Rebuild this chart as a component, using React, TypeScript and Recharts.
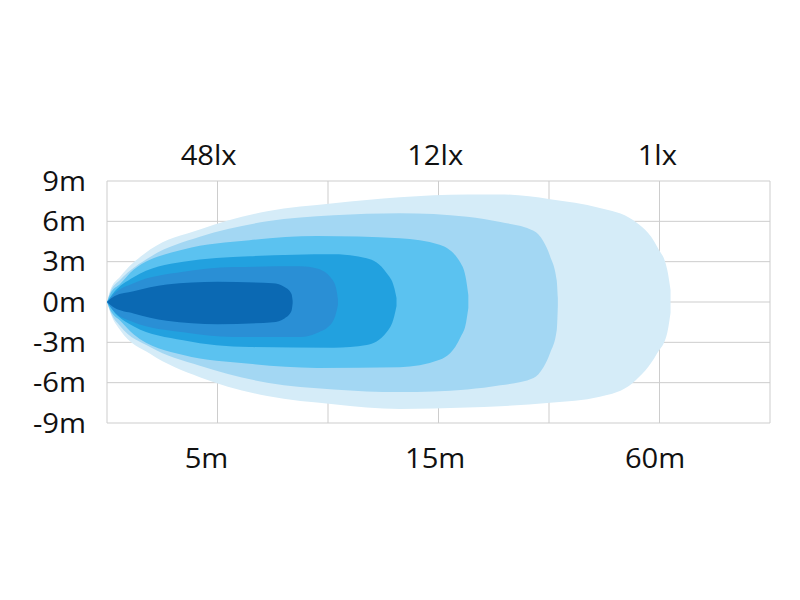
import { ComposedChart, Area, XAxis, YAxis, CartesianGrid } from "recharts";

// beam contours, x in grid columns (0..6), y in metres
const beam6X = [0, 0.03, 0.12, 0.39, 0.84, 1.45, 2.05, 2.65, 3.26, 3.56, 4.01, 4.46, 4.76, 4.98, 5.07, 5.1];
const beam6Top = [0, 0.9, 1.9, 3.9, 5.4, 6.75, 7.35, 7.8, 8.0, 8.0, 7.65, 7.0, 6.1, 4.1, 2.4, 0.9];
const beam6Bot = [0, -0.8, -2.1, -3.85, -5.6, -7.0, -7.6, -7.95, -7.85, -7.75, -7.5, -7.05, -6.0, -3.8, -2.3, -0.8];

const beam5X = [0, 0.03, 0.12, 0.39, 0.84, 1.45, 2.05, 2.65, 3.26, 3.56, 3.86, 3.95, 4.01, 4.07, 4.08];
const beam5Top = [0, 0.75, 1.65, 3.35, 4.85, 6.0, 6.45, 6.6, 6.35, 5.95, 5.3, 4.5, 3.4, 1.6, 0.3];
const beam5Bot = [0, -0.7, -1.8, -3.35, -4.75, -6.0, -6.5, -6.7, -6.5, -6.2, -5.65, -4.85, -3.8, -2.1, -0.3];

const beam4X = [0, 0.03, 0.12, 0.24, 0.69, 1.29, 1.9, 2.65, 3.01, 3.2, 3.25, 3.27];
const beam4Top = [0, 0.6, 1.35, 2.4, 3.9, 4.6, 4.9, 4.75, 4.25, 2.9, 1.65, 0.5];
const beam4Bot = [0, -0.6, -1.4, -2.4, -3.95, -4.6, -4.9, -4.85, -4.3, -2.6, -1.5, -0.45];

const beam3X = [0, 0.05, 0.24, 0.69, 1.29, 2.05, 2.35, 2.53, 2.6, 2.62];
const beam3Top = [0, 0.6, 1.85, 3.0, 3.4, 3.55, 3.25, 2.15, 1.05, 0.3];
const beam3Bot = [0, -0.6, -1.8, -2.85, -3.35, -3.4, -3.2, -2.25, -1.05, -0.3];

const beam2X = [0, 0.07, 0.24, 0.69, 1.14, 1.75, 1.9, 2.04, 2.08, 2.09];
const beam2Top = [0, 0.65, 1.4, 2.25, 2.6, 2.65, 2.5, 1.65, 0.75, 0.2];
const beam2Bot = [0, -0.75, -1.5, -2.25, -2.6, -2.6, -2.3, -1.5, -0.6, -0.2];

const beam1X = [0, 0.07, 0.24, 0.54, 1.0, 1.5, 1.61, 1.67, 1.68];
const beam1Top = [0, 0.45, 0.8, 1.3, 1.5, 1.4, 1.1, 0.6, 0.1];
const beam1Bot = [0, -0.45, -0.85, -1.4, -1.65, -1.5, -1.2, -0.65, -0.1];

const yTicks = [-9, -6, -3, 0, 3, 6, 9];
const gridCols = [0, 1, 2, 3, 4, 5, 6];
const luxLabels = ["48lx", "12lx", "1lx"];
const luxPos = [0.92, 2.97, 4.98];
const distLabels = ["5m", "15m", "60m"];
const distPos = [0.9, 2.97, 4.96];

const beams = [
    { key: "b6", xs: beam6X, top: beam6Top, bot: beam6Bot, color: "#d5ecf8" },
    { key: "b5", xs: beam5X, top: beam5Top, bot: beam5Bot, color: "#a3d7f3" },
    { key: "b4", xs: beam4X, top: beam4Top, bot: beam4Bot, color: "#5bc2f0" },
    { key: "b3", xs: beam3X, top: beam3Top, bot: beam3Bot, color: "#22a1df" },
    { key: "b2", xs: beam2X, top: beam2Top, bot: beam2Bot, color: "#2a8fd5" },
    { key: "b1", xs: beam1X, top: beam1Top, bot: beam1Bot, color: "#0b69b3" },
];

// merge every contour into one table keyed by x
const rows = new Map<number, any>();
beams.forEach(b => {
    b.xs.forEach((x, i) => {
        if (!rows.has(x)) rows.set(x, { x });
        rows.get(x)[b.key] = [b.bot[i], b.top[i]];
    });
});
const data = Array.from(rows.values()).sort((a, b) => a.x - b.x);

const FONT = "'Open Sans', 'Noto Sans', sans-serif";

function Label({ x, y, text, anchor, dx, dy }: any) {
    return (
        <g transform={`translate(${x + dx},${y + dy}) scale(1.08,1)`}>
            <text textAnchor={anchor} dominantBaseline="central" fontSize={27} fill="#111" fontFamily={FONT}>
                {text}
            </text>
        </g>
    );
}

export default function App() {
    return (
        <div style={{ position: "absolute", left: 0, top: 0, width: 800, height: 600, background: "#fff" }}>
            <ComposedChart width={800} height={600} data={data} margin={{ top: 121, right: 30, bottom: 117, left: 27 }}>
                <XAxis xAxisId="grid" type="number" dataKey="x" domain={[0, 6]} ticks={gridCols} hide />
                <CartesianGrid xAxisId="grid" stroke="#cdcdcd" strokeWidth={1} />
                <XAxis
                    xAxisId="top"
                    orientation="top"
                    type="number"
                    dataKey="x"
                    domain={[0, 6]}
                    ticks={luxPos}
                    height={60}
                    axisLine={false}
                    tickLine={false}
                    interval={0}
                    tick={(p: any) => (
                        <Label x={p.x} y={p.y} dx={0} dy={-19} anchor="middle" text={luxLabels[luxPos.indexOf(p.payload.value)]} />
                    )}
                />
                <XAxis
                    type="number"
                    dataKey="x"
                    domain={[0, 6]}
                    ticks={distPos}
                    height={60}
                    axisLine={false}
                    tickLine={false}
                    interval={0}
                    tick={(p: any) => (
                        <Label x={p.x} y={p.y} dx={0} dy={26} anchor="middle" text={distLabels[distPos.indexOf(p.payload.value)]} />
                    )}
                />
                <YAxis
                    type="number"
                    domain={[-9, 9]}
                    ticks={yTicks}
                    width={80}
                    axisLine={false}
                    tickLine={false}
                    interval={0}
                    tick={(p: any) => <Label x={p.x} y={p.y} dx={-13} dy={-1} anchor="end" text={`${p.payload.value}m`} />}
                />
                {beams.map(b => (
                    <Area
                        key={b.key}
                        dataKey={b.key}
                        type="monotone"
                        fill={b.color}
                        fillOpacity={1}
                        stroke="none"
                        connectNulls
                        isAnimationActive={false}
                        dot={false}
                        activeDot={false}
                    />
                ))}
            </ComposedChart>
        </div>
    );
}
